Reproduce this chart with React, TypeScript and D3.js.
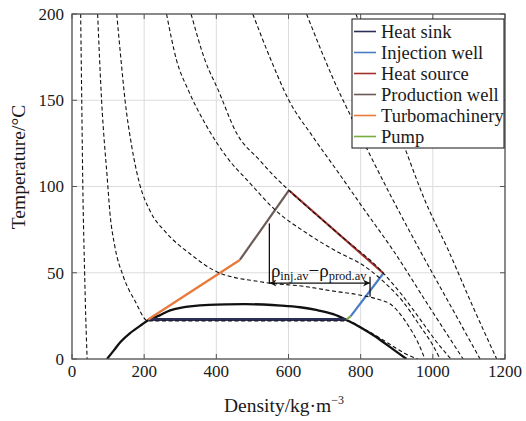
import React, { useEffect, useRef } from 'react';
import * as d3 from 'd3';

type Pt = [number, number]; // [density kg/m3, temperature °C]

// dashed isobars (low to high pressure)
const isobar1: Pt[] = [[24, 200], [27, 150], [30, 100], [35, 50], [38, 25], [42, 0]];
const isobar2: Pt[] = [[71, 200], [82, 150], [98, 104], [105, 85], [119, 65], [142, 48], [175, 33.5], [211, 22], [761, 22], [808, 17.6], [852, 12.3], [885, 8], [920, 3.5], [958, 0]];
const isobar3: Pt[] = [[124, 200], [136, 173], [147, 150], [165, 124], [188, 101], [216, 86], [262, 73], [327, 61], [401, 50.6], [521, 44.8], [650, 41.9], [720, 39.5], [800, 37], [850, 34.5], [881, 32], [930, 20], [960, 9], [978, 0]];
const isobar4: Pt[] = [[262, 200], [290, 173], [322, 156], [373, 135], [429, 117], [493, 102], [563, 86.4], [650, 73], [743, 61.3], [798, 55.5], [863, 45], [918, 33], [965, 19], [1000, 8], [1020, 0]];
const isobar5: Pt[] = [[330, 200], [369, 173], [405, 156], [456, 131], [521, 115], [565, 105], [601, 97.8], [732, 73.7], [863, 49.7], [915, 37], [965, 23], [1010, 10], [1050, 0]];
const isobar6: Pt[] = [[501, 200], [552, 173], [601, 150], [665, 129.6], [734, 109.3], [812, 86], [890, 63], [987, 31.3], [1084, 0]];
const isobar7: Pt[] = [[650, 200], [743, 153.6], [770, 142], [817, 122], [890, 92], [964, 63], [1048, 31.3], [1131, 0]];
const isobar8: Pt[] = [[787, 200], [854, 161], [923, 122], [978, 92], [1043, 63], [1109, 31.3], [1177, 0]];
const isobars = [isobar1, isobar2, isobar3, isobar4, isobar5, isobar6, isobar7, isobar8];

// two-phase dome
const saturation: Pt[] = [[97, 0], [116, 5], [135, 10], [161, 15], [194, 20], [211, 22.4], [243, 25.3], [272, 28.2], [300, 29.7], [334, 30.7], [380, 31.4], [430, 31.7], [480, 31.8], [530, 31.6], [580, 31], [632, 30], [680, 28.3], [724, 26], [761, 22.6], [800, 18.3], [841, 13], [861, 10], [894, 5], [927, 0]];

// cycle legs
const heatSink: Pt[] = [[211, 22.9], [761, 22.9]];
const injectionWell: Pt[] = [[772, 24.7], [863, 49.7]];
const heatSource: Pt[] = [[863, 49.7], [601, 97.8]];
const productionWell: Pt[] = [[601, 97.8], [465, 57.4]];
const turbomachinery: Pt[] = [[465, 57.4], [211, 22.9]];
const pump: Pt[] = [[761, 22.9], [772, 24.7]];

const legendLabels = ['Heat sink', 'Injection well', 'Heat source', 'Production well', 'Turbomachinery', 'Pump'];
const legendColors = ['#2c2f55', '#4a7cc6', '#a3302b', '#6b5b57', '#e8793a', '#7aab3f'];
const cycleLegs = [heatSink, injectionWell, heatSource, productionWell, turbomachinery, pump];

const xTicks = [0, 200, 400, 600, 800, 1000, 1200];
const yTicks = [0, 50, 100, 150, 200];

// average densities marked by the arrow
const rhoProdAv = 547;
const rhoInjAv = 826;
const arrowT = 44;

const FONT = '"Liberation Serif", "Times New Roman", serif';

export default function App() {
  const svgRef = useRef<SVGSVGElement>(null);

  useEffect(() => {
    const svg = d3.select(svgRef.current);
    svg.selectAll('*').remove();

    const left = 72, right = 505, top = 14, bottom = 359;
    const x = d3.scaleLinear().domain([0, 1200]).range([left, right]);
    const y = d3.scaleLinear().domain([0, 200]).range([bottom, top]);

    const defs = svg.append('defs');
    defs.append('clipPath').attr('id', 'plot')
      .append('rect').attr('x', left).attr('y', top).attr('width', right - left).attr('height', bottom - top);
    defs.append('marker').attr('id', 'arr').attr('viewBox', '0 0 10 10')
      .attr('refX', 10).attr('refY', 5).attr('markerWidth', 9).attr('markerHeight', 7)
      .attr('markerUnits', 'userSpaceOnUse').attr('orient', 'auto-start-reverse')
      .append('path').attr('d', 'M0,0L10,5L0,10L3,5Z').attr('fill', '#111');

    // grid
    const grid = svg.append('g').attr('stroke', '#dcdcdc').attr('stroke-width', 1);
    xTicks.forEach(t => grid.append('line').attr('x1', x(t)).attr('x2', x(t)).attr('y1', top).attr('y2', bottom));
    yTicks.forEach(t => grid.append('line').attr('x1', left).attr('x2', right).attr('y1', y(t)).attr('y2', y(t)));

    const plot = svg.append('g').attr('clip-path', 'url(#plot)');
    const line = d3.line<Pt>().x(d => x(d[0])).y(d => y(d[1]));

    plot.append('path').datum(saturation)
      .attr('d', d3.line<Pt>().x(d => x(d[0])).y(d => y(d[1])).curve(d3.curveCatmullRom.alpha(0.5)))
      .attr('fill', 'none').attr('stroke', '#111').attr('stroke-width', 2.3);

    cycleLegs.forEach((leg, i) => {
      plot.append('path').datum(leg).attr('d', line)
        .attr('fill', 'none').attr('stroke', legendColors[i]).attr('stroke-width', i === 0 ? 2.8 : 2.2);
    });

    const isoLine = d3.line<Pt>().x(d => x(d[0])).y(d => y(d[1])).curve(d3.curveMonotoneX);
    isobars.forEach(iso => {
      plot.append('path').datum(iso).attr('d', isoLine)
        .attr('fill', 'none').attr('stroke', '#111').attr('stroke-width', 1.1)
        .attr('stroke-dasharray', '4,2.6');
    });

    // density difference annotation
    const ann = svg.append('g').attr('stroke', '#111').attr('stroke-width', 1.3);
    ann.append('line').attr('x1', x(rhoProdAv)).attr('x2', x(rhoProdAv)).attr('y1', y(78.6)).attr('y2', y(arrowT - 0.5));
    ann.append('line').attr('x1', x(rhoInjAv)).attr('x2', x(rhoInjAv)).attr('y1', y(47.7)).attr('y2', y(36.1));
    ann.append('line').attr('x1', x(rhoProdAv)).attr('x2', x(rhoInjAv)).attr('y1', y(arrowT)).attr('y2', y(arrowT))
      .attr('marker-start', 'url(#arr)').attr('marker-end', 'url(#arr)');

    const lbl = svg.append('text').attr('x', x(rhoProdAv) + 1.5).attr('y', 276.5)
      .attr('font-family', FONT).attr('font-size', 19).attr('fill', '#111');
    lbl.append('tspan').text('ρ');
    lbl.append('tspan').attr('font-size', 12.5).attr('dy', 3).text('inj.av');
    lbl.append('tspan').attr('dy', -3).text('−ρ');
    lbl.append('tspan').attr('font-size', 12.5).attr('dy', 3).text('prod.av');

    // frame and ticks
    svg.append('rect').attr('x', left).attr('y', top).attr('width', right - left).attr('height', bottom - top)
      .attr('fill', 'none').attr('stroke', '#555').attr('stroke-width', 1.3);
    const ticks = svg.append('g').attr('stroke', '#555').attr('stroke-width', 1);
    xTicks.forEach(t => {
      ticks.append('line').attr('x1', x(t)).attr('x2', x(t)).attr('y1', bottom).attr('y2', bottom - 5);
      ticks.append('line').attr('x1', x(t)).attr('x2', x(t)).attr('y1', top).attr('y2', top + 5);
    });
    yTicks.forEach(t => {
      ticks.append('line').attr('x1', left).attr('x2', left + 5).attr('y1', y(t)).attr('y2', y(t));
      ticks.append('line').attr('x1', right).attr('x2', right - 5).attr('y1', y(t)).attr('y2', y(t));
    });

    const labels = svg.append('g').attr('font-family', FONT).attr('font-size', 17).attr('fill', '#1a1a1a');
    xTicks.forEach(t => labels.append('text').attr('x', x(t)).attr('y', 377).attr('text-anchor', 'middle').text(t));
    yTicks.forEach(t => labels.append('text').attr('x', 64).attr('y', y(t)).attr('dy', '0.35em').attr('text-anchor', 'end').text(t));

    const xt = svg.append('text').attr('x', 284).attr('y', 412).attr('text-anchor', 'middle')
      .attr('font-family', FONT).attr('font-size', 19.5).attr('fill', '#1a1a1a');
    xt.append('tspan').text('Density/kg·m');
    xt.append('tspan').attr('font-size', 12).attr('dy', -8).text('−3');

    svg.append('text').attr('transform', 'translate(25,167) rotate(-90)').attr('text-anchor', 'middle')
      .attr('font-family', FONT).attr('font-size', 19.5).attr('fill', '#1a1a1a').text('Temperature/°C');

    // legend
    const lg = svg.append('g');
    lg.append('rect').attr('x', 352).attr('y', 19).attr('width', 152).attr('height', 129)
      .attr('fill', '#fff').attr('stroke', '#111').attr('stroke-width', 1);
    legendLabels.forEach((name, i) => {
      const ry = 31.5 + i * 21;
      lg.append('line').attr('x1', 354).attr('x2', 376).attr('y1', ry).attr('y2', ry)
        .attr('stroke', legendColors[i]).attr('stroke-width', 1.6);
      lg.append('text').attr('x', 381).attr('y', ry).attr('dy', '0.35em')
        .attr('font-family', FONT).attr('font-size', 18.5).attr('fill', '#1a1a1a').text(name);
    });
  }, []);

  return (
    <svg ref={svgRef} width={526} height={421} style={{ position: 'absolute', left: 0, top: 0, background: '#fff' }} />
  );
}
